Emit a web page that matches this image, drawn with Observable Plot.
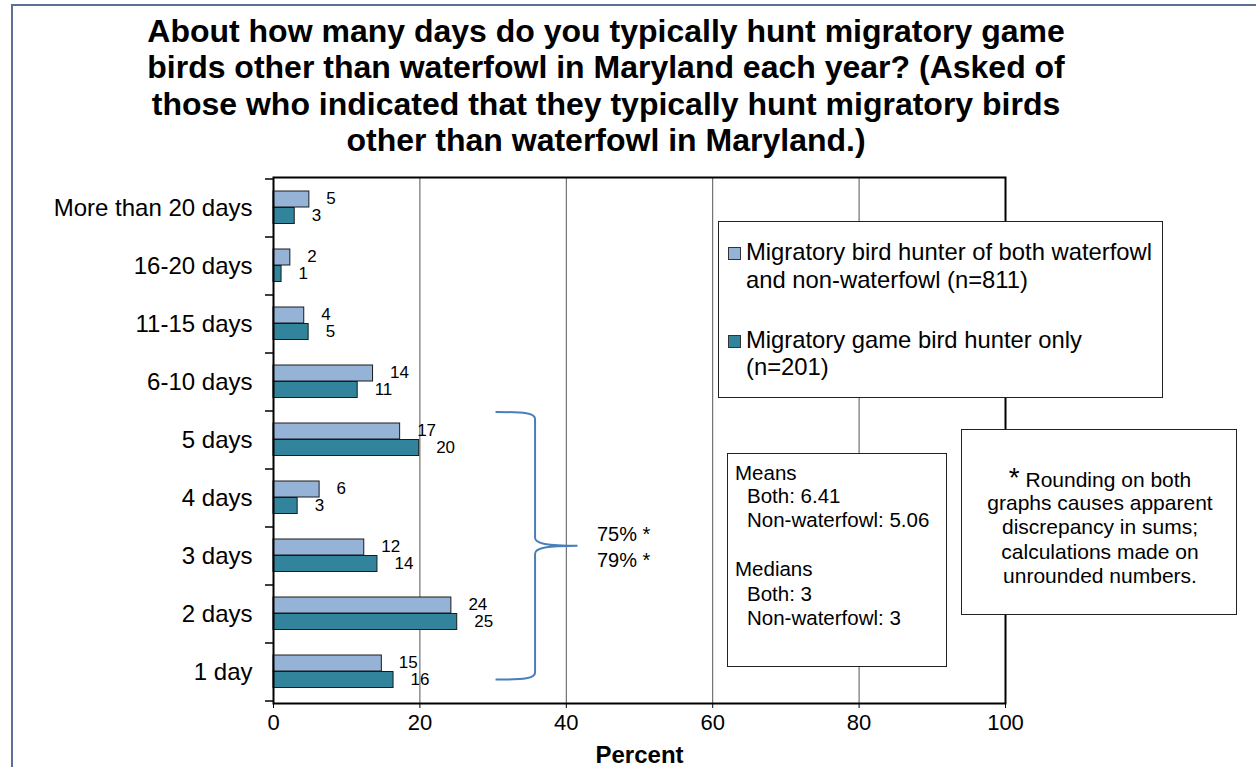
<!DOCTYPE html>
<html>
<head>
<meta charset="utf-8">
<script src="https://cdn.jsdelivr.net/npm/d3@7"></script>
<script src="https://cdn.jsdelivr.net/npm/@observablehq/plot@0.6"></script>
<style>
  body { margin: 0; background: #fff; font-family: Arial, "Liberation Sans", sans-serif; color: #000; }
  #wrap { position: relative; width: 1256px; height: 767px; overflow: hidden; background: #fff; }
  #outer { position: absolute; left: 11px; top: 4px; width: 1400px; height: 900px; border-left: 2px solid #5b7094; border-top: 2px solid #5b7094; }
  #title { position: absolute; left: 0; top: 13px; width: 1212px; text-align: center; font-weight: bold; font-size: 32px; line-height: 36.3px; }
  #chart { position: absolute; left: 0; top: 165px; }
  #chart svg { display: block; }
  .box { position: absolute; background: #fff; border: 1.5px solid #222; box-sizing: border-box; }
  .t { position: absolute; white-space: nowrap; }
  .sw { position: absolute; width: 13px; height: 13px; border: 1px solid #333; box-sizing: border-box; }
</style>
</head>
<body>
<div id="wrap">
  <div id="outer"></div>
  <div id="title"></div>
  <div id="chart"></div>
</div>
<script>
// ---- data ----
const titleLines = [
  "About how many days do you typically hunt migratory game",
  "birds other than waterfowl in Maryland each year? (Asked of",
  "those who indicated that they typically hunt migratory birds",
  "other than waterfowl in Maryland.)"
];
const categories = ["More than 20 days", "16-20 days", "11-15 days", "6-10 days", "5 days", "4 days", "3 days", "2 days", "1 day"];
const bothValues = [4.9, 2.3, 4.2, 13.6, 17.3, 6.3, 12.4, 24.3, 14.8];
const onlyValues = [2.9, 1.1, 4.8, 11.5, 19.9, 3.3, 14.2, 25.1, 16.4];
const bothLabels = [5, 2, 4, 14, 17, 6, 12, 24, 15];
const onlyLabels = [3, 1, 5, 11, 20, 3, 14, 25, 16];
const xTicks = [0, 20, 40, 60, 80, 100];
const gridValues = [20, 40, 60, 80];
const xLabel = "Percent";
const seriesLegendLines = [
  ["Migratory bird hunter of both waterfowl", "and non-waterfowl (n=811)"],
  ["Migratory game bird hunter only", "(n=201)"]
];
const seriesColors = ["#95b3d7", "#31849b"];
const braceStart = "5 days";
const braceEnd = "1 day";
const braceTotals = ["75% *", "79% *"];
const statsLines = [["Means", 0], ["Both: 6.41", 1], ["Non-waterfowl: 5.06", 1], ["", 0], ["Medians", 0], ["Both: 3", 1], ["Non-waterfowl: 3", 1]];
const noteLines = ["Rounding on both", "graphs causes apparent", "discrepancy in sums;", "calculations made on", "unrounded numbers."];

// ---- helpers ----
const wrap = document.getElementById("wrap");
function place(text, x, baseline, size, opts = {}) {
  const d = document.createElement("div");
  d.className = "t";
  d.style.fontSize = size + "px";
  d.style.lineHeight = size + "px";
  d.style.top = (baseline - 0.8465 * size) + "px";
  if (opts.center) { d.style.left = (x - 300) + "px"; d.style.width = "600px"; d.style.textAlign = "center"; }
  else d.style.left = x + "px";
  if (opts.bold) d.style.fontWeight = "bold";
  if (opts.html) d.innerHTML = text; else d.textContent = text;
  wrap.appendChild(d);
  return d;
}
function box(left, top, w, h) {
  const b = document.createElement("div");
  b.className = "box";
  Object.assign(b.style, { left: left + "px", top: top + "px", width: w + "px", height: h + "px" });
  wrap.appendChild(b);
  return b;
}

document.getElementById("title").innerHTML = titleLines.join("<br>");

// ---- chart ----
const both = categories.map((c, i) => ({ cat: c, v: bothValues[i], label: bothLabels[i] }));
const only = categories.map((c, i) => ({ cat: c, v: onlyValues[i], label: onlyLabels[i] }));

function boundaryTicks(index, scales) {
  const g = d3.create("svg:g");
  const x0 = scales.x(0);
  const bw = scales.y(categories[1]) - scales.y(categories[0]);
  const ys = categories.map(c => scales.y(c)).concat([scales.y(categories[categories.length - 1]) + bw]);
  g.selectAll("line").data(ys).join("line")
    .attr("x1", x0 - 8).attr("x2", x0)
    .attr("y1", d => d).attr("y2", d => d)
    .attr("stroke", "#000").attr("stroke-width", 1.5);
  return g.node();
}

function brace(index, scales) {
  const bw = scales.y(categories[1]) - scales.y(categories[0]);
  const yt = scales.y(braceStart) + 1;
  const yb = scales.y(braceEnd) + bw * 0.63;
  const ym = (yt + yb) / 2;
  const xe = scales.x(30.4), xs = scales.x(35.8), xt = scales.x(41.6);
  const p = d3.path();
  p.moveTo(xe, yt);
  p.bezierCurveTo(xs - 10, yt, xs, yt + 1, xs, yt + 7);
  p.lineTo(xs, ym - 8);
  p.bezierCurveTo(xs, ym - 2, xs + 12, ym, xt, ym);
  p.bezierCurveTo(xs + 12, ym, xs, ym + 2, xs, ym + 8);
  p.lineTo(xs, yb - 7);
  p.bezierCurveTo(xs, yb - 1, xs - 10, yb, xe, yb);
  return d3.create("svg:path").attr("d", p.toString())
    .attr("fill", "none").attr("stroke", "#4a7ebb").attr("stroke-width", 2).node();
}

const chart = Plot.plot({
  width: 1256,
  height: 602,
  marginTop: 12,
  marginBottom: 64,
  marginLeft: 273,
  marginRight: 251,
  style: { fontFamily: "Arial, 'Liberation Sans', sans-serif", fontSize: "20px", background: "transparent", color: "#000" },
  x: { domain: [0, 100] },
  y: { domain: categories, padding: 0, axis: null },
  marks: [
    Plot.ruleX(gridValues, { stroke: "#555", strokeWidth: 1 }),
    Plot.barX(both, { y: "cat", x: "v", fill: seriesColors[0], stroke: "#1a1a1a", strokeWidth: 1, insetTop: 12, insetBottom: 30 }),
    Plot.barX(only, { y: "cat", x: "v", fill: seriesColors[1], stroke: "#1a1a1a", strokeWidth: 1, insetTop: 28.5, insetBottom: 13.5 }),
    Plot.text(both, { y: "cat", x: "v", text: "label", dx: 17, dy: -9.5, textAnchor: "start", fontSize: 17, fill: "#000" }),
    Plot.text(only, { y: "cat", x: "v", text: "label", dx: 17, dy: 7.5, textAnchor: "start", fontSize: 17, fill: "#000" }),
    Plot.axisY({ tickSize: 0, tickPadding: 21, fontSize: 24, label: null }),
    Plot.axisX({ ticks: xTicks, tickSize: 5, tickPadding: 6, fontSize: 22, label: null }),
    Plot.text([xLabel], { frameAnchor: "bottom", dy: 52, lineAnchor: "middle", fontWeight: "bold", fontSize: 24, fill: "#000" }),
    Plot.frame({ stroke: "#000", strokeWidth: 2 }),
    boundaryTicks,
    brace
  ]
});
document.getElementById("chart").appendChild(chart);

// ---- brace totals ----
braceTotals.forEach((t, i) => place(t, 597, 540.7 + 26 * i, 20));

// ---- legend ----
box(718, 221, 445, 177);
const legendTops = [[247, [260, 287.7]], [335, [347.7, 375]]];
seriesLegendLines.forEach((lines, i) => {
  const s = document.createElement("div");
  s.className = "sw";
  Object.assign(s.style, { left: "728px", top: legendTops[i][0] + "px", background: seriesColors[i] });
  wrap.appendChild(s);
  lines.forEach((ln, j) => place(ln, 746, legendTops[i][1][j], 23.8));
});

// ---- stats box ----
box(727, 453, 220, 214);
const statBase = [480, 503.5, 527, 552, 576.7, 601.5, 625];
statsLines.forEach(([t, indent], i) => { if (t) place(t, indent ? 747 : 735, statBase[i], 20.5); });

// ---- note box ----
box(961, 429, 276, 186);
noteLines.forEach((t, i) => {
  const html = i === 0 ? '<span style="font-size:28px">*</span> ' + t : t;
  place(html, 1100, 485 + 24.5 * i, 21, { center: true, html: i === 0 });
});
</script>
</body>
</html>
